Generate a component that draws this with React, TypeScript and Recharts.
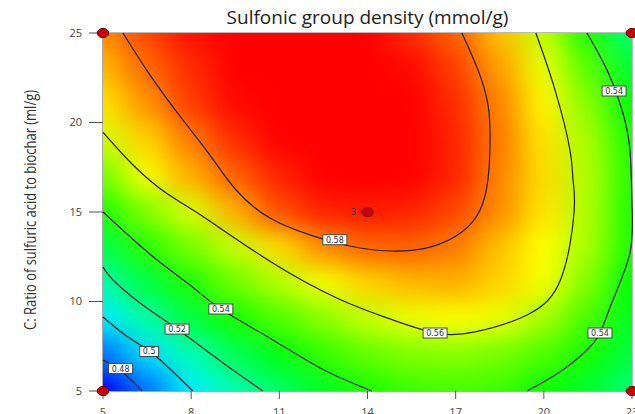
import React from 'react';
import { ComposedChart, XAxis, YAxis, Scatter, ReferenceLine } from 'recharts';

// ---------- data ----------
const xTicks = [5, 8, 11, 14, 17, 20, 23];
const yTicks = [5, 10, 15, 20, 25];

// grid of the response surface (sulfonic group density), columns = xCols, rows = yRows
const xCols = [5, 6.5, 8, 9.5, 11, 12.5, 14, 15.5, 17, 18.5, 20, 21.5, 23];
const yRows = [25, 23, 21, 19, 17, 15, 13, 11, 9, 7, 5];
const zGrid = [
  [0.576, 0.584, 0.59, 0.594, 0.595, 0.595, 0.592, 0.587, 0.581, 0.57, 0.557, 0.54, 0.521],
  [0.571, 0.58, 0.587, 0.592, 0.595, 0.596, 0.595, 0.591, 0.585, 0.574, 0.561, 0.546, 0.53],
  [0.566, 0.575, 0.585, 0.591, 0.595, 0.597, 0.597, 0.594, 0.587, 0.577, 0.564, 0.551, 0.536],
  [0.558, 0.568, 0.578, 0.587, 0.592, 0.595, 0.596, 0.594, 0.588, 0.578, 0.566, 0.554, 0.54],
  [0.549, 0.562, 0.572, 0.581, 0.588, 0.592, 0.593, 0.592, 0.588, 0.577, 0.567, 0.555, 0.541],
  [0.54, 0.55, 0.559, 0.572, 0.583, 0.588, 0.589, 0.588, 0.584, 0.576, 0.566, 0.555, 0.54],
  [0.527, 0.541, 0.549, 0.557, 0.567, 0.576, 0.5805, 0.581, 0.578, 0.57, 0.563, 0.554, 0.54],
  [0.513, 0.528, 0.54, 0.548, 0.555, 0.562, 0.568, 0.571, 0.572, 0.568, 0.562, 0.55, 0.536],
  [0.499, 0.514, 0.528, 0.539, 0.545, 0.551, 0.557, 0.561, 0.5625, 0.561, 0.5535, 0.544, 0.533],
  [0.482, 0.497, 0.512, 0.525, 0.535, 0.542, 0.547, 0.55, 0.551, 0.549, 0.545, 0.539, 0.528],
  [0.466, 0.482, 0.4995, 0.513, 0.523, 0.532, 0.5395, 0.543, 0.544, 0.543, 0.538, 0.531, 0.521],
];

// contour lines (x = A, y = C)
const c048 = [
  { x: 5, y: 6.73 }, { x: 5.61, y: 6.12 }, { x: 6.33, y: 5.0 },
];
const c050 = [
  { x: 5, y: 9.13 }, { x: 5.75, y: 8.13 }, { x: 6.57, y: 7.23 }, { x: 7.28, y: 6.23 }, { x: 8.06, y: 5.0 },
];
const c052 = [
  { x: 5, y: 11.93 }, { x: 5.34, y: 11.2 }, { x: 6.26, y: 9.92 }, { x: 7.52, y: 8.46 },
  { x: 8.81, y: 6.9 }, { x: 9.66, y: 5.89 }, { x: 10.44, y: 5.0 },
];
const c054a = [
  { x: 5, y: 15.0 }, { x: 6.63, y: 12.6 }, { x: 7.96, y: 10.92 }, { x: 9.01, y: 9.58 },
  { x: 10.72, y: 7.91 }, { x: 12.45, y: 6.23 }, { x: 14.15, y: 5.0 },
];
const c054b = [
  { x: 21.47, y: 25 }, { x: 22.15, y: 22.93 }, { x: 22.66, y: 20.7 }, { x: 22.93, y: 18.46 },
  { x: 23, y: 15.4 }, { x: 22.93, y: 12.71 }, { x: 22.35, y: 10.08 }, { x: 21.91, y: 8.24 },
  { x: 21.4, y: 7.18 }, { x: 20.55, y: 6.06 }, { x: 19.43, y: 5.0 },
];
const c056 = [
  { x: 5, y: 19.45 }, { x: 6.1, y: 17.5 }, { x: 7.2, y: 16.0 }, { x: 8.4, y: 14.75 },
  { x: 10.72, y: 12.21 }, { x: 13.03, y: 10.14 }, { x: 14.77, y: 9.02 }, { x: 16.3, y: 8.24 },
  { x: 17.66, y: 8.3 }, { x: 19.43, y: 9.25 }, { x: 20.58, y: 11.26 }, { x: 21.03, y: 15.0 },
  { x: 20.99, y: 16.84 }, { x: 20.89, y: 18.46 }, { x: 20.38, y: 21.82 }, { x: 19.73, y: 25 },
];
const c058 = [
  { x: 5.68, y: 25 }, { x: 6.6, y: 22.65 }, { x: 7.72, y: 20.14 }, { x: 8.64, y: 18.18 },
  { x: 9.53, y: 16.23 }, { x: 10.68, y: 14.66 }, { x: 12.04, y: 13.72 }, { x: 13.4, y: 13.1 },
  { x: 14.77, y: 12.82 }, { x: 16.13, y: 13.04 }, { x: 17.21, y: 13.88 }, { x: 17.83, y: 15.11 },
  { x: 18.1, y: 16.84 }, { x: 18.17, y: 19.02 }, { x: 18.1, y: 20.98 }, { x: 17.76, y: 22.93 },
  { x: 17.21, y: 25 },
];
const contours = [c048, c050, c052, c054a, c054b, c056, c058];

const contourLabels = [
  { x: 5.6, y: 6.25, t: '0.48' },
  { x: 6.57, y: 7.21, t: '0.5' },
  { x: 7.52, y: 8.46, t: '0.52' },
  { x: 9.01, y: 9.58, t: '0.54' },
  { x: 12.89, y: 13.45, t: '0.58' },
  { x: 16.3, y: 8.24, t: '0.56' },
  { x: 21.91, y: 8.24, t: '0.54' },
  { x: 22.39, y: 21.76, t: '0.54' },
];

const designPoints = [
  { x: 5, y: 25, n: '' },
  { x: 23, y: 25, n: '' },
  { x: 5, y: 5, n: '' },
  { x: 23, y: 5, n: '' },
  { x: 14, y: 15, n: '3' },
];

// ---------- layout ----------
const W = 700;
const H = 440;
const MARGIN = { top: 33, right: 68, bottom: 0, left: 0 };
const Y_AXIS_W = 103;
const X_AXIS_H = 49;
const X_MIN = 5, X_MAX = 23, Y_MIN = 5, Y_MAX = 25;
const PLOT_X = MARGIN.left + Y_AXIS_W;
const PLOT_Y = MARGIN.top;
const PLOT_W = W - MARGIN.right - PLOT_X;
const PLOT_H = H - MARGIN.bottom - X_AXIS_H - PLOT_Y;
const STEP_X = 1.5;
const STEP_Y = 2;

const cells = yRows.flatMap((y, i) => xCols.map((x, j) => ({ x, y, z: zGrid[i][j] })));

const STOPS: [number, number[]][] = [
  [0.466, [0, 0, 255]],
  [0.502, [0, 255, 255]],
  [0.537, [0, 255, 0]],
  [0.563, [255, 255, 0]],
  [0.592, [255, 0, 0]],
];

function colorFor(z: number): string {
  if (z <= STOPS[0][0]) return `rgb(${STOPS[0][1].join(',')})`;
  for (let i = 1; i < STOPS.length; i++) {
    if (z <= STOPS[i][0]) {
      const [z0, c0] = STOPS[i - 1];
      const [z1, c1] = STOPS[i];
      const t = (z - z0) / (z1 - z0);
      const c = c0.map((v, k) => Math.round(v + (c1[k] - v) * t));
      return `rgb(${c.join(',')})`;
    }
  }
  return `rgb(${STOPS[STOPS.length - 1][1].join(',')})`;
}

const HeatCell = (p: any) => {
  const { cx, cy, payload } = p;
  const hw = ((STEP_X / (X_MAX - X_MIN)) * PLOT_W) / 2 + 0.6;
  const hh = ((STEP_Y / (Y_MAX - Y_MIN)) * PLOT_H) / 2 + 0.6;
  let x0 = cx - hw, x1 = cx + hw, y0 = cy - hh, y1 = cy + hh;
  if (payload.x === X_MIN) x0 -= 45;
  if (payload.x === X_MAX) x1 += 45;
  if (payload.y === Y_MAX) y0 -= 45;
  if (payload.y === Y_MIN) y1 += 45;
  const first = payload.x === X_MIN && payload.y === Y_MAX;
  return (
    <g>
      {first && (
        <defs>
          <clipPath id="plotClip" clipPathUnits="userSpaceOnUse">
            <rect x={PLOT_X} y={PLOT_Y} width={PLOT_W} height={PLOT_H} />
          </clipPath>
          <filter id="heatBlur" filterUnits="userSpaceOnUse" x={-100} y={-100} width={W + 200} height={H + 200}
            colorInterpolationFilters="sRGB">
            <feGaussianBlur stdDeviation="15 12" />
          </filter>
        </defs>
      )}
      <rect className="heatcell" x={x0} y={y0} width={x1 - x0} height={y1 - y0} fill={colorFor(payload.z)} />
    </g>
  );
};

const Empty = () => <g />;

const LabelBox = (p: any) => {
  const { cx, cy, payload } = p;
  const w = payload.t.length * 5 + 4;
  return (
    <g>
      <rect x={cx - w / 2} y={cy - 5} width={w} height={10} fill="#ffffff" stroke="#3a3a3a" strokeWidth={0.9} />
      <text x={cx} y={cy + 3} textAnchor="middle" fontSize={8} fill="#333" fontFamily="DejaVu Sans">
        {payload.t}
      </text>
    </g>
  );
};

const DesignDot = (p: any) => {
  const { cx, cy, payload } = p;
  return (
    <g>
      <ellipse cx={cx} cy={cy} rx={5.8} ry={4.6} fill="#c8000a" stroke="#6a0000" strokeWidth={1} />
      {payload.n && (
        <text x={cx - 14} y={cy + 3} textAnchor="middle" fontSize={8} fill="#333" fontFamily="DejaVu Sans">
          {payload.n}
        </text>
      )}
    </g>
  );
};

const YLabel = (props: any) => {
  const vb = props.viewBox || { x: 0, y: PLOT_Y, width: Y_AXIS_W, height: PLOT_H };
  const cx = 29;
  const cy = vb.y + vb.height / 2 - 2;
  return (
    <text
      x={cx}
      y={cy}
      transform={`rotate(-90 ${cx} ${cy})`}
      textAnchor="middle"
      dominantBaseline="central"
      textLength={240}
      lengthAdjust="spacingAndGlyphs"
      fontSize={17}
      fill="#333"
      fontFamily="Open Sans"
    >
      C: Ratio of sulfuric acid to biochar (ml/g)
    </text>
  );
};

export default function App() {
  return (
    <div style={{ width: 635, height: 414, overflow: 'hidden', position: 'relative', background: '#fff' }}>
      <style>{'body{margin:0;overflow:hidden;} .heat, .recharts-scatter:has(.heatcell){filter:url(#heatBlur);clip-path:url(#plotClip);}'}</style>
      <div
        style={{
          position: 'absolute',
          left: PLOT_X,
          width: PLOT_W,
          top: 4,
          textAlign: 'center',
          fontFamily: 'Open Sans',
          fontSize: 19,
          color: '#222',
          lineHeight: '26px',
          zIndex: 2,
        }}
      >
        Sulfonic group density (mmol/g)
      </div>
      <ComposedChart width={W} height={H} margin={MARGIN}>
        <Scatter className="heat" data={cells} shape={HeatCell} isAnimationActive={false} />
        {contours.map((c, i) => (
          <Scatter
            key={i}
            data={c}
            line={{ stroke: '#1e1e1e', strokeWidth: 1.2 }}
            lineJointType="natural"
            shape={Empty}
            isAnimationActive={false}
          />
        ))}
        <ReferenceLine y={Y_MAX} stroke="#777" strokeWidth={1} />
        <ReferenceLine x={X_MAX} stroke="#777" strokeWidth={1} />
        <XAxis
          type="number"
          dataKey="x"
          domain={[X_MIN, X_MAX]}
          ticks={xTicks}
          height={X_AXIS_H}
          tickSize={8}
          tickMargin={9}
          stroke="#555"
          tick={{ fontSize: 11, fill: '#444', fontFamily: 'Open Sans' }}
        />
        <YAxis
          type="number"
          dataKey="y"
          domain={[Y_MIN, Y_MAX]}
          ticks={yTicks}
          width={Y_AXIS_W}
          tickSize={14}
          tickMargin={7}
          stroke="#555"
          tick={{ fontSize: 11, fill: '#444', fontFamily: 'Open Sans' }}
          label={{ content: YLabel }}
        />
        <Scatter data={contourLabels} shape={LabelBox} isAnimationActive={false} />
        <Scatter data={designPoints} shape={DesignDot} isAnimationActive={false} />
      </ComposedChart>
    </div>
  );
}
